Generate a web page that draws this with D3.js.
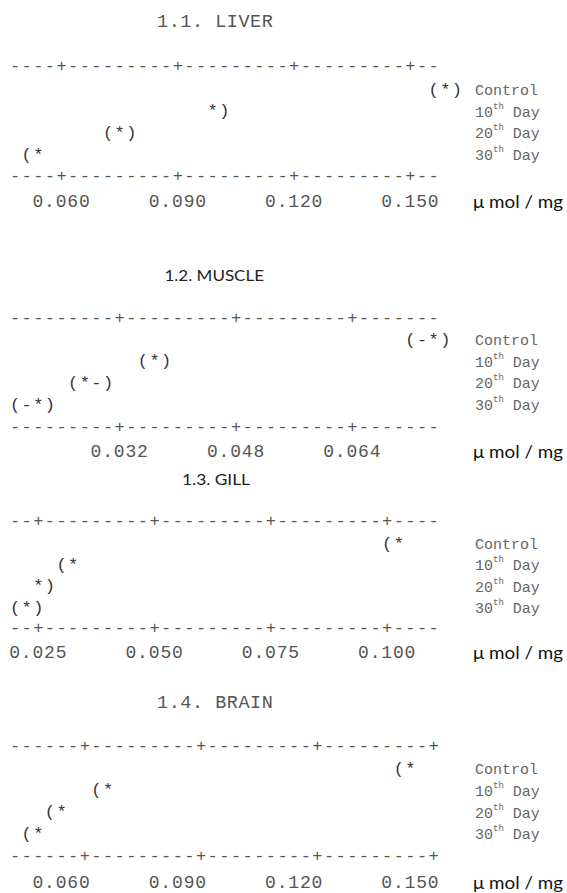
<!DOCTYPE html>
<html>
<head>
<meta charset="utf-8">
<script src="https://cdn.jsdelivr.net/npm/d3@7"></script>
<style>
  html, body { margin: 0; padding: 0; background: #fff; }
  svg { display: block; }
</style>
</head>
<body>
<svg id="chart" width="567" height="893"></svg>
<script>
// Group labels shared by every organ panel
const groups = ["Control", "10th Day", "20th Day", "30th Day"];
const unitLabel = "\u03bc mol / mg";

// 1.1 Liver
const liverTicks = [0.060, 0.090, 0.120, 0.150];
const liverMean  = [0.159, 0.099, 0.075, 0.054];
const liverLower = [0.156, 0.099, 0.072, 0.051];
const liverUpper = [0.162, 0.102, 0.078, 0.054];

// 1.2 Muscle
const muscleTicks = [0.032, 0.048, 0.064];
const muscleMean  = [0.0752, 0.0368, 0.0272, 0.0208];
const muscleLower = [0.0720, 0.0352, 0.0256, 0.0176];
const muscleUpper = [0.0768, 0.0384, 0.0304, 0.0224];

// 1.3 Gill
const gillTicks = [0.025, 0.050, 0.075, 0.100];
const gillMean  = [0.1025, 0.0325, 0.0250, 0.0225];
const gillLower = [0.1000, 0.0300, 0.0250, 0.0200];
const gillUpper = [0.1025, 0.0325, 0.0275, 0.0250];

// 1.4 Brain
const brainTicks = [0.060, 0.090, 0.120, 0.150];
const brainMean  = [0.144, 0.066, 0.054, 0.048];
const brainLower = [0.141, 0.063, 0.051, 0.045];
const brainUpper = [0.144, 0.066, 0.054, 0.048];

// Character-grid geometry of the text plot
const CW = 11.63;          // width of one character cell
const X0 = 9.2;            // left edge of cell 0
const NCELLS = 37;         // cells on each axis line
const GLYPH = 17;          // font size of plot glyphs
const MONO = "'Liberation Mono', 'Courier New', monospace";
const SANS = "Lato, 'Open Sans', 'Liberation Sans', sans-serif";
const cellX = c => X0 + (c + 0.5) * CW;

const panels = [
  { title: "1.1. LIVER", titleFont: "mono", ticks: liverTicks, mean: liverMean, lower: liverLower, upper: liverUpper,
    firstTickCell: 4, labelShift: 0, titleY: 22, top: 66, rowsY: 90, rowGap: 21.7, bottom: 176, labelY: 202 },
  { title: "1.2. MUSCLE", titleFont: "sans", ticks: muscleTicks, mean: muscleMean, lower: muscleLower, upper: muscleUpper,
    firstTickCell: 9, labelShift: 0, titleY: 274, titleX: 164.5, titleW: 99.5, top: 318, rowsY: 340, rowGap: 21.7, bottom: 427, labelY: 452 },
  { title: "1.3. GILL", titleFont: "sans", ticks: gillTicks, mean: gillMean, lower: gillLower, upper: gillUpper,
    firstTickCell: 2, labelShift: 0, titleY: 478, titleX: 182, titleW: 68, top: 521, rowsY: 544, rowGap: 21.4, bottom: 628, labelY: 653 },
  { title: "1.4. BRAIN", titleFont: "mono", ticks: brainTicks, mean: brainMean, lower: brainLower, upper: brainUpper,
    firstTickCell: 6, labelShift: -2, titleY: 703, top: 746, rowsY: 769, rowGap: 21.8, bottom: 856, labelY: 883 }
];

const svg = d3.select("#chart");
const fmt = d3.format(".3f");

panels.forEach(p => {
  const g = svg.append("g");
  const lastTickCell = p.firstTickCell + 10 * (p.ticks.length - 1);
  const x = d3.scaleLinear()
    .domain([p.ticks[0], p.ticks[p.ticks.length - 1]])
    .range([cellX(p.firstTickCell), cellX(lastTickCell)]);
  const toCell = v => Math.round((x(v) - cellX(0)) / CW);

  // Title
  if (p.titleFont === "mono") {
    g.append("text")
      .attr("x", 157).attr("y", p.titleY)
      .attr("dominant-baseline", "central")
      .attr("font-family", MONO).attr("font-size", 18.5)
      .attr("letter-spacing", CW - 18.5 * 0.6)
      .attr("fill", "#555")
      .text(p.title);
  } else {
    g.append("text")
      .attr("x", p.titleX).attr("y", p.titleY)
      .attr("dominant-baseline", "central")
      .attr("font-family", SANS).attr("font-size", 16)
      .attr("textLength", p.titleW).attr("lengthAdjust", "spacingAndGlyphs")
      .attr("fill", "#222")
      .text(p.title);
  }

  // Top and bottom axis lines built from dashes and '+' tick marks
  const tickCells = p.ticks.map(toCell);
  const axisCells = d3.range(NCELLS).map(c => ({ c, ch: tickCells.includes(c) ? "+" : "-" }));
  [p.top, p.bottom].forEach(yy => {
    g.append("g").selectAll("text").data(axisCells).join("text")
      .attr("x", d => cellX(d.c)).attr("y", yy)
      .attr("text-anchor", "middle").attr("dominant-baseline", "central")
      .attr("font-family", MONO).attr("font-size", GLYPH)
      .attr("fill", "#555")
      .text(d => d.ch);
  });

  // Tick labels
  g.append("g").selectAll("text").data(p.ticks).join("text")
    .attr("x", d => x(d) + p.labelShift * CW).attr("y", p.labelY)
    .attr("text-anchor", "middle").attr("dominant-baseline", "central")
    .attr("font-family", MONO).attr("font-size", 18)
    .attr("letter-spacing", CW - 18 * 0.6)
    .attr("fill", "#555")
    .text(d => fmt(d));

  // Unit label
  g.append("text")
    .attr("x", 473).attr("y", p.labelY)
    .attr("dominant-baseline", "central")
    .attr("font-family", SANS).attr("font-size", 16.5)
    .attr("textLength", 90).attr("lengthAdjust", "spacingAndGlyphs")
    .attr("fill", "#111")
    .text(unitLabel);

  // Interval markers: '(' lower, '*' mean, ')' upper, '-' in between
  groups.forEach((name, i) => {
    const y = p.rowsY + i * p.rowGap;
    const lo = toCell(p.lower[i]), mid = toCell(p.mean[i]), hi = toCell(p.upper[i]);
    const glyphs = [];
    for (let c = lo; c <= hi; c++) {
      let ch = "-";
      if (c === lo) ch = "(";
      if (c === hi) ch = ")";
      if (c === mid) ch = "*";
      glyphs.push({ c, ch });
    }
    g.append("g").selectAll("text").data(glyphs).join("text")
      .attr("x", d => cellX(d.c)).attr("y", y)
      .attr("text-anchor", "middle").attr("dominant-baseline", "central")
      .attr("font-family", MONO).attr("font-size", GLYPH)
      .attr("fill", "#333")
      .text(d => d.ch);

    // Group label with superscript ordinal suffix
    const lab = g.append("text")
      .attr("x", 475).attr("y", y + 1)
      .attr("dominant-baseline", "central")
      .attr("font-family", MONO).attr("font-size", 15)
      .attr("fill", "#666");
    const m = name.match(/^(\d+)(th)(.*)$/);
    if (m) {
      lab.append("tspan").text(m[1]);
      lab.append("tspan").attr("font-size", 9).attr("dy", -6).text(m[2]);
      lab.append("tspan").attr("dy", 6).text(m[3]);
    } else {
      lab.text(name);
    }
  });
});
</script>
</body>
</html>
